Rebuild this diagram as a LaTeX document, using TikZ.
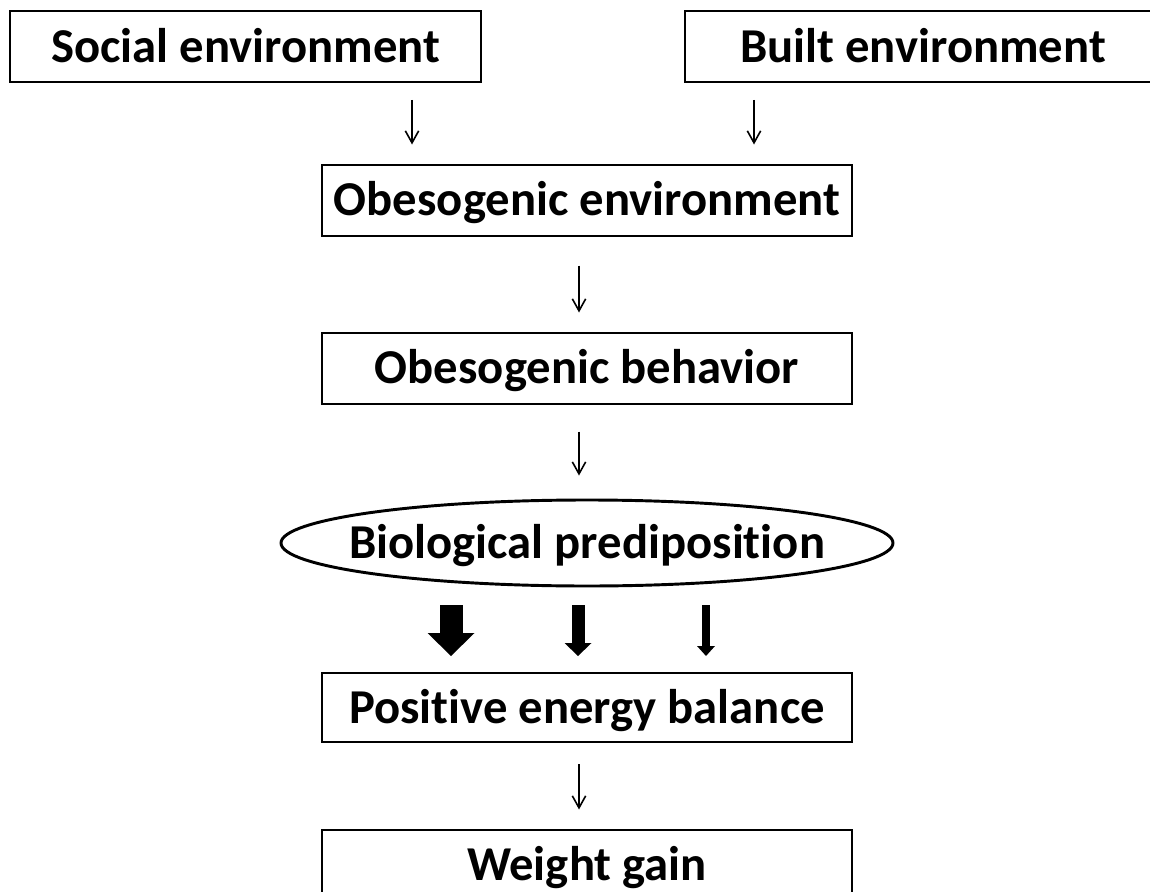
\documentclass[tikz,border=0pt]{standalone}
\usepackage{fontspec}
\setmainfont{Carlito}[Ligatures=NoCommon]
\usetikzlibrary{positioning, shapes.geometric, arrows.meta}

\begin{document}
\begin{tikzpicture}[
    x=0.75pt, y=-0.75pt,
    every node/.style={font=\fontsize{36.5}{43}\selectfont\bfseries, text height=23.4pt, text depth=0pt, inner sep=0pt},
    rectnode/.style={rectangle, draw=black, line width=1.5pt, minimum width=397.5pt, minimum height=53.25pt},
    ovalnode/.style={ellipse, draw=black, line width=2.2pt, inner xsep=-30pt, minimum width=459pt, minimum height=64.5pt},
    thinarrow/.style={line width=1.2pt, -{Straight Barb[length=9pt, width=10pt]}},
  ]
  \useasboundingbox (0,0) rectangle (1150,892);
  % causes
  \node[rectnode, minimum width=353.25pt] (social) at (245.5,46.5) {Social environment};
  \node[rectnode, minimum width=357pt] (built) at (923,46.5) {Built environment};
  % chain
  \node[rectnode] (env) at (587,200) {Obesogenic environment};
  \node[rectnode] (behav) at (587,368) {Obesogenic behavior};
  \node[ovalnode] (bio) at (587,543) {Biological prediposition};
  \node[rectnode, minimum height=51.75pt] (pos) at (587,707.5) {Positive energy balance};
  \node[rectnode] (gain) at (587,865) {Weight gain};

  \coordinate (a1) at (412,0);
  \coordinate (a2) at (754,0);
  \coordinate (a3) at (579,0);
  \draw[thinarrow, shorten <=12.75pt, shorten >=14.25pt] (social.south -| a1) -- (env.north -| a1);
  \draw[thinarrow, shorten <=12.75pt, shorten >=14.25pt] (built.south -| a2) -- (env.north -| a2);
  \draw[thinarrow, shorten <=21.75pt, shorten >=14.25pt] (env.south -| a3) -- (behav.north -| a3);
  \draw[thinarrow, shorten <=20.25pt, shorten >=17.25pt] (behav.south -| a3) -- (bio.north -| a3);
  \draw[thinarrow, shorten <=15.75pt, shorten >=14.25pt] (pos.south -| a3) -- (gain.north -| a3);

  % block arrows
  \coordinate (b1) at (451,605);
  \coordinate (b2) at (578,605);
  \coordinate (b3) at (706,605);
  \draw[line width=17.25pt, -{Triangle[length=17.25pt, width=35.25pt, line width=0pt]}, shorten >=12pt] (b1) -- (pos.north -| b1);
  \draw[line width=9.75pt, -{Triangle[length=9.75pt, width=20.25pt, line width=0pt]}, shorten >=12pt] (b2) -- (pos.north -| b2);
  \draw[line width=6pt, -{Triangle[length=7.5pt, width=13.5pt, line width=0pt]}, shorten >=12pt] (b3) -- (pos.north -| b3);
\end{tikzpicture}
\end{document}
